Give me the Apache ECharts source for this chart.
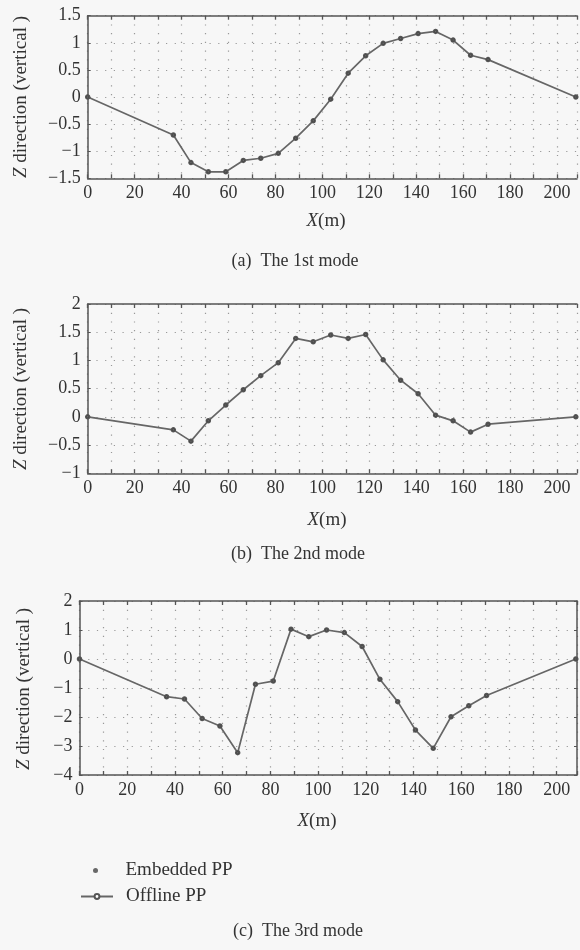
<!DOCTYPE html>
<html>
<head>
<meta charset="utf-8">
<script src="https://cdn.jsdelivr.net/npm/echarts@6/dist/echarts.min.js"></script>
<style>
  html, body { margin: 0; padding: 0; background: #f7f7f7; }
  #chart { width: 580px; height: 950px; }
</style>
</head>
<body>
<div id="chart"></div>
<script>
// node positions along the deck (m)
const xPos = [0, 36.5, 44, 51.4, 58.85, 66.3, 73.75, 81.2, 88.65, 96.1, 103.55, 111, 118.45,
  125.9, 133.35, 140.8, 148.25, 155.7, 163.15, 170.6, 208];

// vertical mode shapes
const mode1 = [0, -0.70, -1.21, -1.38, -1.38, -1.17, -1.13, -1.04, -0.76, -0.44, -0.04, 0.44, 0.76,
  0.99, 1.08, 1.17, 1.21, 1.05, 0.77, 0.69, 0];
const mode2 = [0, -0.23, -0.43, -0.07, 0.21, 0.48, 0.73, 0.96, 1.39, 1.33, 1.45, 1.39, 1.46,
  1.01, 0.65, 0.41, 0.03, -0.07, -0.27, -0.13, 0];
const mode3 = [0, -1.30, -1.38, -2.05, -2.31, -3.23, -0.87, -0.76, 1.03, 0.77, 1.00, 0.91, 0.43,
  -0.70, -1.47, -2.45, -3.08, -1.99, -1.61, -1.26, 0];

// axis ranges: [min, max, step]
const xRange = [0, 208.5, 10];
const xLabelStep = 20;
const yRange1 = [-1.5, 1.5, 0.5];
const yRange2 = [-1, 2, 0.5];
const yRange3 = [-4, 2, 1];

const captions = ["(a)  The 1st mode", "(b)  The 2nd mode", "(c)  The 3rd mode"];

const SERIF = "'Liberation Serif', 'DejaVu Serif', serif";
const frame = "#555";

const chart = echarts.init(document.getElementById("chart"));

// first two panels run past the right edge of the page (cropped in the original)
const grids = [
  { left: 87.7, top: 15.7, width: 494, height: 162.6 },
  { left: 87.7, top: 304, width: 494, height: 169.3 },
  { left: 79.5, top: 601, width: 497.7, height: 174 },
];
const rightEdgeVisible = [false, false, true];

const fmtY = (v) => (v < 0 ? "\u2212" + Math.abs(v) : String(v));
const dotted = { show: true, lineStyle: { color: "#999", width: 1.2, type: [1.2, 7.5] } };
const edge = { show: true, onZero: false, lineStyle: { color: frame, width: 1.5 } };

const xAxes = [];
const yAxes = [];
const yRanges = [yRange1, yRange2, yRange3];

grids.forEach((g, i) => {
  // bottom axis with labels
  xAxes.push({
    type: "value", gridIndex: i, position: "bottom",
    min: xRange[0], max: xRange[1], interval: xRange[2],
    axisLine: edge,
    axisTick: { inside: true, length: 4, lineStyle: { color: frame, width: 1.3 } },
    axisLabel: {
      margin: 6, color: "#333", fontFamily: SERIF, fontSize: 18,
      formatter: (v) => (v % xLabelStep === 0 ? String(v) : ""),
    },
    splitLine: dotted,
  });
  yAxes.push({
    type: "value", gridIndex: i, position: "left",
    min: yRanges[i][0], max: yRanges[i][1], interval: yRanges[i][2],
    axisLine: edge,
    axisTick: { show: true, inside: true, length: 3, lineStyle: { color: frame } },
    axisLabel: { margin: 7, color: "#333", fontFamily: SERIF, fontSize: 18, formatter: fmtY },
    splitLine: dotted,
  });
});
grids.forEach((g, i) => {
  // mirrored frame: top and right
  xAxes.push({
    type: "value", gridIndex: i, position: "top",
    min: xRange[0], max: xRange[1], interval: xRange[2],
    axisLine: edge,
    axisTick: { inside: true, length: 4, lineStyle: { color: frame, width: 1.3 } },
    axisLabel: { show: false }, splitLine: { show: false },
  });
  yAxes.push({
    type: "value", gridIndex: i, position: "right",
    min: yRanges[i][0], max: yRanges[i][1], interval: yRanges[i][2],
    axisLine: Object.assign({}, edge, { show: rightEdgeVisible[i] }),
    axisTick: { show: rightEdgeVisible[i], inside: true, length: 3, lineStyle: { color: frame } },
    axisLabel: { show: false }, splitLine: { show: false },
  });
});

const modes = [mode1, mode2, mode3];
const series = [];
modes.forEach((m, i) => {
  const pts = xPos.map((x, k) => [x, m[k]]);
  series.push({
    name: "Offline PP", type: "line", xAxisIndex: i, yAxisIndex: i,
    data: pts, symbol: "emptyCircle", symbolSize: 3.5, showSymbol: true,
    lineStyle: { color: "#666", width: 1.7 },
    itemStyle: { color: "#555", borderColor: "#555", borderWidth: 1 },
    silent: true, z: 3,
  });
  series.push({
    name: "Embedded PP", type: "scatter", xAxisIndex: i, yAxisIndex: i,
    data: pts, symbol: "circle", symbolSize: 3,
    itemStyle: { color: "#444" }, silent: true, z: 4,
  });
});

const txt = (x, y, text, size, rot) => ({
  type: "text", x: x, y: y, rotation: rot || 0, silent: true,
  style: {
    text: text, fill: "#333", font: size + "px " + SERIF,
    textAlign: "center", textVerticalAlign: "middle",
    rich: { i: { fontStyle: "italic", fontSize: size, fontFamily: SERIF, fill: "#333" } },
  },
});

const graphics = [
  txt(21, 97, "{i|Z} direction (vertical )", 19, Math.PI / 2),
  txt(21, 389, "{i|Z} direction (vertical )", 19, Math.PI / 2),
  txt(24, 689, "{i|Z} direction (vertical )", 19, Math.PI / 2),
  txt(326, 221, "{i|X}(m)", 19),
  txt(327, 520, "{i|X}(m)", 19),
  txt(317, 821, "{i|X}(m)", 19),
  txt(295, 261, captions[0], 18),
  txt(298, 554, captions[1], 18),
  txt(298, 931, captions[2], 18),
];

chart.setOption({
  backgroundColor: "#f7f7f7",
  animation: false,
  grid: grids,
  xAxis: xAxes,
  yAxis: yAxes,
  legend: [
    {
      data: [{ name: "Embedded PP", icon: "circle" }],
      left: 93, top: 861, orient: "vertical", padding: 0,
      itemWidth: 32, itemHeight: 5,
      textStyle: { fontFamily: SERIF, fontSize: 19, color: "#333", padding: [0, 0, 0, 9] },
      selectedMode: false,
    },
    {
      data: ["Offline PP"],
      left: 80, top: 887, orient: "vertical", padding: 0,
      itemWidth: 32, itemHeight: 6,
      textStyle: { fontFamily: SERIF, fontSize: 19, color: "#333", padding: [0, 0, 0, 8] },
      selectedMode: false,
    },
  ],
  series: series,
  graphic: graphics,
});
</script>
</body>
</html>
